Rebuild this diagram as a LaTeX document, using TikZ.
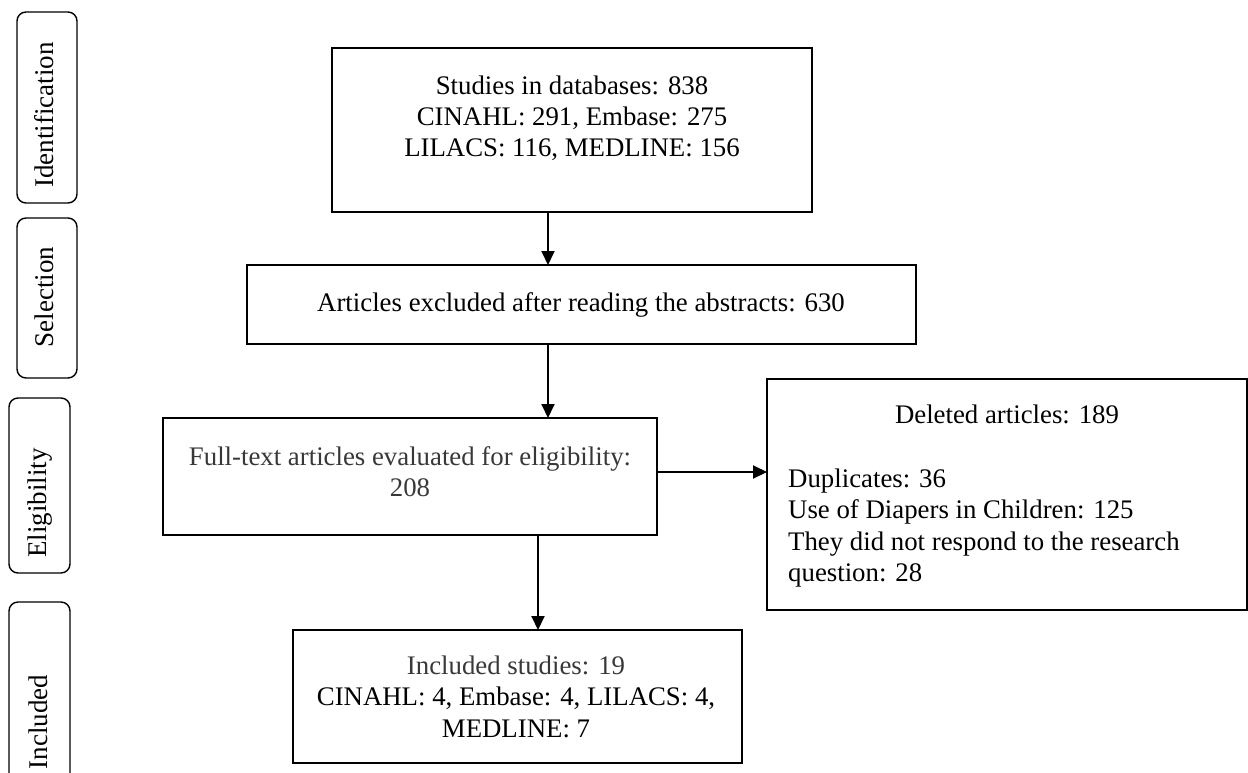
\documentclass[tikz,border=0pt]{standalone}
\usepackage{fontspec}
\setmainfont{Liberation Serif}
\usetikzlibrary{arrows.meta}
\begin{document}
\begin{tikzpicture}[x=1pt,y=-1pt,
  box/.style={draw, line width=1.6pt, rectangle, inner sep=0pt, outer sep=0pt},
  side/.style={draw, line width=1.4pt, rectangle, rounded corners=9pt, inner sep=0pt, outer sep=0pt},
  arr/.style={line width=2pt, -{Triangle[width=13pt,length=14pt]}},
  txt/.style={font=\fontsize{26.8}{31.5}\selectfont, inner sep=0pt, anchor=base},
  stxt/.style={font=\fontsize{27}{32}\selectfont, inner sep=0pt, anchor=base, rotate=90},
  graytxt/.style={txt, text=black!78}]
\useasboundingbox (0,0) rectangle (1248,772);
\clip (0,0) rectangle (1248,772);
% side labels
\node[side, minimum width=60pt, minimum height=191pt] (s1) at (47,107.5) {};
\node[side, minimum width=60pt, minimum height=160pt] (s2) at (47,298) {};
\node[side, minimum width=61pt, minimum height=175pt] (s3) at (39.5,485.5) {};
\node[side, minimum width=61pt, minimum height=230pt] (s4) at (39.5,717) {};
\node[stxt] (l1) at (53,115) {Identification};
\node[stxt] (l2) at (53,297) {Selection};
\node[stxt] (l3) at (46,503) {Eligibility};
\node[stxt] (l4) at (47,722) {Included};
% main boxes
\node[box, minimum width=480pt, minimum height=164pt] (b1) at (572,130) {};
\node[box, minimum width=669pt, minimum height=79pt] (b2) at (581.5,304.5) {};
\node[box, minimum width=494pt, minimum height=117pt] (b3) at (410,476.5) {};
\node[box, minimum width=480pt, minimum height=231pt] (b4) at (1007,494.5) {};
\node[box, minimum width=449pt, minimum height=133pt] (b5) at (517.5,696.5) {};
% texts
\node[txt] (t11) at (572,94) {Studies in databases: 838};
\node[txt] (t12) at (572,125) {CINAHL: 291, Embase: 275};
\node[txt] (t13) at (572,156) {LILACS: 116, MEDLINE: 156};
\node[txt] (t21) at (581,311) {Articles excluded after reading the abstracts: 630};
\node[graytxt] (t31) at (410,465) {Full-text articles evaluated for eligibility:};
\node[graytxt] (t32) at (410,496) {208};
\node[txt] (t41) at (1007,423) {Deleted articles: 189};
\node[txt, anchor=base west] (t42) at (788,487) {Duplicates: 36};
\node[txt, anchor=base west] (t43) at (788,518.5) {Use of Diapers in Children: 125};
\node[txt, anchor=base west] (t44) at (788,550) {They did not respond to the research};
\node[txt, anchor=base west] (t45) at (788,581.5) {question: 28};
\node[graytxt] (t51) at (516,674) {Included studies: 19};
\node[txt] (t52) at (516,705.5) {CINAHL: 4, Embase: 4, LILACS: 4,};
\node[txt] (t53) at (516,737) {MEDLINE: 7};
% connectors
\coordinate (xa) at (548,0);
\coordinate (xb) at (538,0);
\coordinate (ya) at (0,472);
\draw[arr] (b1.south -| xa) -- (b2.north -| xa);
\draw[arr] (b2.south -| xa) -- (b3.north -| xa);
\draw[arr] (b3.east |- ya) -- (b4.west |- ya);
\draw[arr] (b3.south -| xb) -- (b5.north -| xb);
\end{tikzpicture}
\end{document}
